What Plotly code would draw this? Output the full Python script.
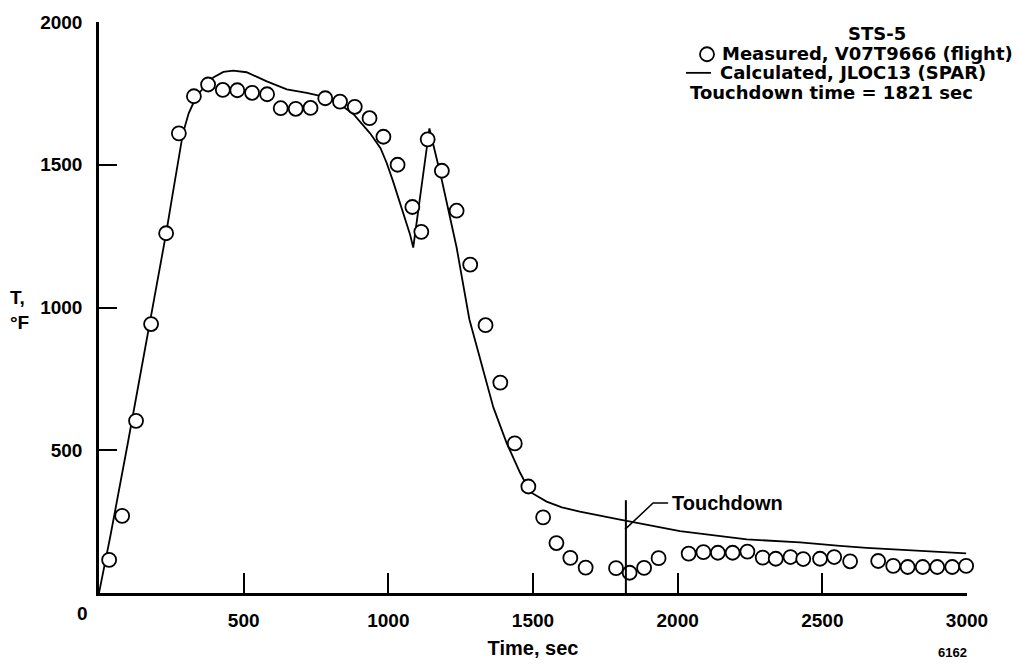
import plotly.graph_objects as go

# ---------------- data ----------------
meas_t = [35, 80, 128, 180, 232, 276, 328, 377, 428, 478, 529, 581, 628, 680, 731,
          782, 833, 884, 935, 983, 1032, 1083, 1114, 1136, 1185, 1236, 1283, 1336,
          1387, 1437, 1484, 1535, 1581, 1629, 1682, 1787, 1834, 1884, 1934, 2038,
          2089, 2139, 2190, 2241, 2294, 2339, 2390, 2434, 2492, 2541, 2596, 2693,
          2745, 2795, 2847, 2897, 2949, 2997]
meas_T = [116, 270, 603, 942, 1260, 1610, 1740, 1781, 1762, 1761, 1752, 1747, 1698,
          1696, 1699, 1733, 1721, 1703, 1663, 1598, 1500, 1352, 1265, 1589, 1479,
          1339, 1150, 938, 737, 524, 373, 265, 175, 123, 89, 87, 71, 88, 122, 138,
          143, 141, 141, 145, 124, 120, 126, 119, 120, 126, 111, 112, 95, 91, 91,
          91, 91, 95]

calc_t = [0, 40, 100, 141, 179, 232, 255, 272, 290, 310, 330, 349, 395, 430, 464,
          510, 580, 649, 718, 764, 833, 879, 937, 973, 994, 1017, 1040, 1052, 1075,
          1086, 1142, 1184, 1236, 1280, 1317, 1363, 1409, 1455, 1490, 1547, 1600,
          1662, 1801, 2008, 2239, 2423, 2561, 2653, 2997]
calc_T = [0, 203, 527, 753, 959, 1260, 1400, 1500, 1610, 1680, 1725, 1755, 1806,
          1825, 1830, 1824, 1792, 1764, 1752, 1741, 1712, 1678, 1610, 1558, 1507,
          1440, 1370, 1330, 1256, 1210, 1627, 1450, 1210, 959, 822, 650, 525, 422,
          354, 320, 300, 285, 257, 217, 188, 177, 165, 158, 139]

touchdown_time = 1821
touchdown_line_top = 325

x_tickvals = [0, 500, 1000, 1500, 2000, 2500, 3000]
x_ticktext = ["", "500", "1000", "1500", "2000", "2500", "3000"]
y_tickvals = [0, 500, 1000, 1500, 2000]
y_ticktext = ["", "500", "1000", "1500", "2000"]

# ---------------- layout helpers ----------------
W, H = 1018, 669
L, R, T, B = 99, 51, 16, 69
PW, PH = W - L - R, H - T - B


def px(xpix):
    return (xpix - L) / PW


def py(ypix):
    return 1 - (ypix - T) / PH


FONT = "Liberation Sans, Arial, Helvetica, sans-serif"
WIDE = "DejaVu Sans, Liberation Sans, sans-serif"
BLACK = "#000000"

fig = go.Figure()

fig.add_trace(go.Scatter(
    x=calc_t, y=calc_T, mode="lines",
    line=dict(color=BLACK, width=1.8),
    name="Calculated, JLOC13 (SPAR)", showlegend=False, hoverinfo="skip"))

fig.add_trace(go.Scatter(
    x=meas_t, y=meas_T, mode="markers",
    marker=dict(symbol="circle", size=14, color="white",
                line=dict(color=BLACK, width=1.8)),
    name="Measured, V07T9666 (flight)", showlegend=False, cliponaxis=False))

# touchdown vertical line
fig.add_trace(go.Scatter(
    x=[touchdown_time, touchdown_time], y=[0, touchdown_line_top], mode="lines",
    line=dict(color=BLACK, width=2), showlegend=False, hoverinfo="skip"))

shapes = []
# leader line for "Touchdown" label
shapes.append(dict(type="path", xref="x", yref="y",
                   path="M 1818 223 L 1915 315 L 1967 315",
                   line=dict(color=BLACK, width=1.5)))
# legend symbols
shapes.append(dict(type="circle", xref="paper", yref="paper",
                   xsizemode="pixel", ysizemode="pixel",
                   xanchor=px(707), yanchor=py(49),
                   x0=-7, x1=7, y0=-7, y1=7,
                   line=dict(color=BLACK, width=1.8), fillcolor="white"))
shapes.append(dict(type="line", xref="paper", yref="paper",
                   x0=px(686), x1=px(711), y0=py(68), y1=py(68),
                   line=dict(color=BLACK, width=1.8)))

annotations = []


def ann(text, xpix, ypix, size=20, xanchor="left", yanchor="middle", bold=True,
        align="left", family=FONT):
    annotations.append(dict(
        text=text, x=px(xpix), y=py(ypix), xref="paper", yref="paper",
        xanchor=xanchor, yanchor=yanchor, showarrow=False, align=align,
        font=dict(family=family, size=size, color=BLACK,
                  weight="bold" if bold else "normal")))


ann("STS-5", 877, 28, size=18, xanchor="center", family=WIDE)
ann("Measured, V07T9666 (flight)", 720, 48, size=18, family=WIDE)
ann("Calculated, JLOC13 (SPAR)", 718, 68, size=18, family=WIDE)
ann("Touchdown time = 1821 sec", 688, 88, size=18, family=WIDE)
ann("Touchdown", 670, 508, size=20)
ann("T,<br>°F", 19, 311, size=19, xanchor="center")
ann("0", 82, 621, size=19, xanchor="center")
ann("6162", 952, 661, size=13, xanchor="center")

fig.update_layout(
    width=W, height=H,
    margin=dict(l=L, r=R, t=T, b=B, pad=0),
    paper_bgcolor="white", plot_bgcolor="white",
    font=dict(family=FONT, color=BLACK, size=19, weight="bold"),
    shapes=shapes, annotations=annotations,
    showlegend=False,
    xaxis=dict(range=[0, 3000], tickvals=x_tickvals, ticktext=x_ticktext,
               ticks="inside", ticklen=20, tickwidth=2, tickcolor=BLACK,
               showline=True, linecolor=BLACK, linewidth=2.5,
               showgrid=False, zeroline=False, fixedrange=True,
               ticklabelstandoff=8,
               tickfont=dict(family=FONT, size=19, color=BLACK, weight="bold"),
               title=dict(text="Time, sec", standoff=12,
                          font=dict(family=FONT, size=20, color=BLACK, weight="bold"))),
    yaxis=dict(range=[0, 2000], tickvals=y_tickvals, ticktext=y_ticktext,
               ticks="inside", ticklen=18, tickwidth=2, tickcolor=BLACK,
               showline=True, linecolor=BLACK, linewidth=2.5,
               showgrid=False, zeroline=False, fixedrange=True,
               ticklabelstandoff=10,
               tickfont=dict(family=FONT, size=19, color=BLACK, weight="bold")),
)

fig.write_html("out.html")
